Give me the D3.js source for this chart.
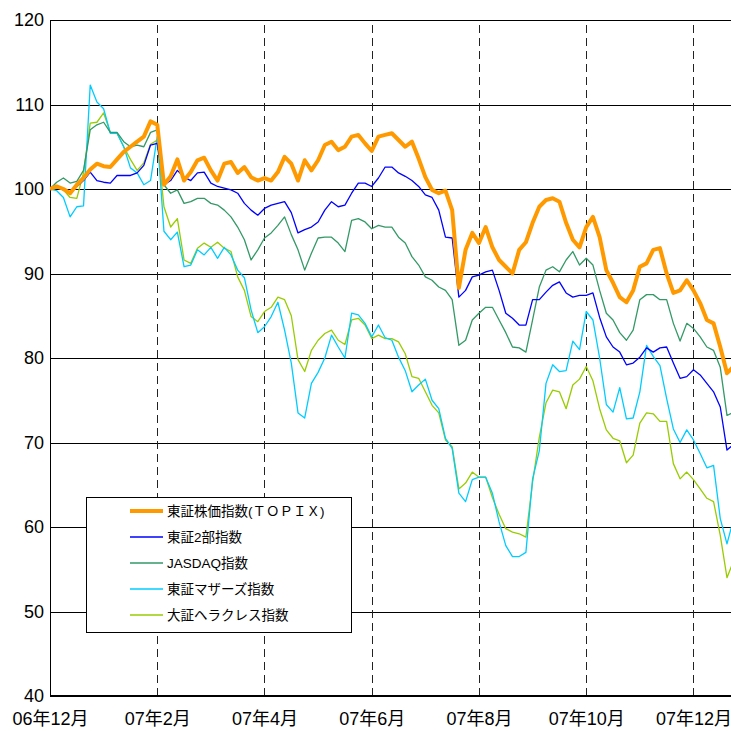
<!DOCTYPE html>
<html>
<head>
<meta charset="utf-8">
<script src="https://cdn.jsdelivr.net/npm/d3@7"></script>
<style>
  body { margin: 0; background: #fff; }
  svg { display: block; }
  text { font-family: "Liberation Sans", Arial, "Noto Sans CJK JP", sans-serif; }
</style>
</head>
<body>
<svg width="731" height="731"></svg>
<script>
// x axis: months since 06/12, samples every 1/8 month
const monthTicks = [0, 2, 4, 6, 8, 10, 12];
const monthLabels = ["06年12月", "07年2月", "07年4月", "07年6月", "07年8月", "07年10月", "07年12月"];
const yTicks = [40, 50, 60, 70, 80, 90, 100, 110, 120];
const sampleStep = 1 / 8;

const topix = [100,100.3,100,99.5,100.5,101.3,102.3,103,102.7,102.6,
  103.5,104.4,105,105.6,106.2,108,107.6,100.5,101.5,103.5,
  101,102,103.4,103.7,102.2,101,103,103.2,101.9,102.6,
  101.4,101,101.3,101,102,103.8,103,101,103.4,102.2,
  103.4,105.2,105.6,104.6,105,106.2,106.4,105.4,104.5,106.2,
  106.4,106.6,105.8,105,105.6,103.6,101.4,99.9,99.5,99.8,
  97.5,88.3,92.8,94.8,93.6,95.5,93.1,91.6,90.8,90,
  92.8,93.7,96,97.9,98.7,98.9,98.5,96,94,93.1,
  95.5,96.7,94.3,90.4,88.9,87.2,86.6,88,90.8,91.2,
  92.8,93,90,87.7,88,89.2,88,86.5,84.5,84.1,
  81.3,78.2,79];

const tse2 = [100,100.2,99.9,99.5,100.3,101,102,101,100.8,100.7,
  101.6,101.6,101.6,101.9,102.8,105.2,105.4,100.5,101,102.2,
  101.4,101,101.9,102,100.7,100.3,100.1,99.9,99.5,98.3,
  97.5,96.9,97.7,98.1,98.3,98.5,97.2,94.8,95.2,95.5,
  96.1,97.5,98.5,97.9,98.1,99.5,100.7,100.7,100.3,101.3,
  102.6,102.6,101.9,101.5,101,100.3,99.3,99,97.5,94.3,
  94.2,87.2,88,89.6,89.8,90.2,90.4,88,85.3,84.7,
  83.9,83.9,86.9,86.9,87.8,88.6,89,87.7,87.2,87.4,
  87.4,87.7,84.8,82.5,81.3,80.7,79.2,79.4,80.1,81.2,
  80.7,81.2,81.3,79.4,77.6,77.8,78.6,78,77,76,
  74.2,69.1,69.8];

const jasdaq = [100,100.8,101.3,100.7,100.9,102.2,107,107.6,107.9,106.7,
  106.7,105.6,105,105.2,105,106.7,107,100.5,99.5,99.9,
  98.3,98.5,98.9,98.9,98.3,98.1,97.5,96.7,95.5,94,
  91.6,92.8,94.2,94.8,95.7,96.7,94.6,92.8,90.4,92.4,
  94.2,94.3,94.3,93.6,92.6,96.3,96.5,96.1,95.3,95.7,
  95.5,95.5,94.3,93.6,92,91,89.6,89.2,88.4,88,
  86.9,81.5,82.1,84.5,85.3,86,86,84.5,83,81.3,
  81.2,80.7,84.5,88.4,90.4,90.8,90.2,91.6,92.6,91,
  91.8,91,88,85.3,84.5,83,82.1,83.3,86.9,87.5,
  87.5,86.9,86.9,84.1,82,84.1,83.5,82.5,81.3,80.9,
  78.9,73.2,73.6];

const mothers = [100,99.8,99,96.7,97.9,98,112.3,110.3,109.5,106.6,
  106.6,105,102.5,101.9,100.5,101,106.2,95,94,94.9,
  90.8,91,92.8,92.2,93.1,91.8,93.1,92.2,90.4,89.5,
  85.7,83,83.7,84.9,86.6,83.3,79.4,73.5,72.9,77,
  78.3,80,82.7,81.3,80,85.3,85.1,84.1,82.5,83.9,
  82.4,82.1,80.1,78.5,76,76.8,77.5,75,74,70.5,
  69.3,64,63,65.6,65.9,65.9,64,60.6,57.8,56.5,
  56.5,57,65.7,69,77,79.2,78.4,78.5,82,81,
  85.5,84.5,80,74.5,73.6,76.5,72.8,72.9,76,81.5,
  80.2,79.1,75.2,71.6,70,71.5,70.3,68.7,67,67.3,
  61,58,61];

const hercules = [100,100.4,99.9,99,98.9,101.9,107.8,107.9,109,106.7,
  106.6,105,103.5,102.2,103.1,105.3,105.8,97.9,95.5,96.5,
  91.6,91.2,93,93.6,93.1,93.7,93,92.6,89.6,88,
  84.9,84.3,85.5,86,87.2,86.9,85,79.8,78.4,80.9,
  82.1,82.9,83.3,82.1,81.6,84.5,84.7,83.9,82.3,82.7,
  82.3,82.3,81.9,80.5,77.8,77.6,76,74.4,73.5,70.3,
  69.5,64.5,65.2,66.5,65.9,65.9,63.5,61.5,59.8,59.4,
  59.2,58.8,65.3,70.6,74.7,76.2,76,74,76.8,77.5,
  79,77.3,74,71.5,70.5,70.2,67.6,68.5,72.3,73.5,
  73.4,72.5,72.5,67.5,65.7,66.5,65.6,64.5,63.4,63,
  59,54,56];

const seriesNames = ["東証株価指数(ＴＯＰＩＸ)", "東証2部指数", "JASDAQ指数", "東証マザーズ指数", "大証ヘラクレス指数"];
const seriesValues = [topix, tse2, jasdaq, mothers, hercules];
const seriesColors = ["#ff9900", "#0000ff", "#339966", "#00ccff", "#99cc00"];
const seriesWidths = [4, 1.3, 1.3, 1.3, 1.3];

const svg = d3.select("svg"),
    margin = {top: 20, right: 0, bottom: 35, left: 50},
    width = +svg.attr("width") - margin.left - margin.right,
    height = +svg.attr("height") - margin.top - margin.bottom,
    g = svg.append("g").attr("transform", "translate(" + margin.left + "," + margin.top + ")");

const x = d3.scaleLinear().domain([0, 12.7]).range([0, width]);
const y = d3.scaleLinear().domain([40, 120]).range([height, 0]);

// horizontal grid + y labels
const yAxis = g.append("g")
    .call(d3.axisLeft(y).tickValues(yTicks).tickSize(-width).tickPadding(6).tickFormat(d3.format("d")));
yAxis.select(".domain").remove();
yAxis.selectAll("line").attr("stroke", "#000").attr("shape-rendering", "crispEdges");
yAxis.selectAll("text").attr("font-size", 18).attr("fill", "#000");

// vertical dashed lines + month labels
const xAxis = g.append("g")
    .attr("transform", "translate(0," + height + ")")
    .call(d3.axisBottom(x).tickValues(monthTicks).tickSize(-height).tickPadding(16)
      .tickFormat((d, i) => monthLabels[i]));
xAxis.select(".domain").remove();
xAxis.selectAll("line")
    .attr("stroke", d => d === 0 ? "none" : "#222")
    .attr("stroke-dasharray", "8,5")
    .attr("shape-rendering", "crispEdges");
xAxis.selectAll("text").attr("font-size", 18).attr("fill", "#000");

// axis frame lines
g.append("line").attr("x1", 0).attr("x2", 0).attr("y1", 0).attr("y2", height)
    .attr("stroke", "#000").attr("shape-rendering", "crispEdges");
g.append("line").attr("x1", 0).attr("x2", width).attr("y1", height).attr("y2", height)
    .attr("stroke", "#000").attr("stroke-width", 1.5).attr("shape-rendering", "crispEdges");

g.append("clipPath").attr("id", "plotclip")
  .append("rect").attr("x", 0).attr("y", 0).attr("width", width).attr("height", height);

const line_gen = d3.line()
    .x((d, i) => x(i * sampleStep))
    .y(d => y(d));

// draw back to front so TOPIX ends on top
const order = [4, 3, 2, 1, 0];
g.append("g").attr("clip-path", "url(#plotclip)")
  .selectAll("path")
  .data(order)
  .join("path")
    .attr("fill", "none")
    .attr("stroke", k => seriesColors[k])
    .attr("stroke-width", k => seriesWidths[k])
    .attr("stroke-linejoin", "round")
    .attr("d", k => line_gen(seriesValues[k]));

// legend
const legend = svg.append("g").attr("transform", "translate(86,497)");
legend.append("rect")
    .attr("x", 0.5).attr("y", 0.5).attr("width", 265).attr("height", 135)
    .attr("fill", "#fff").attr("stroke", "#000");
const rows = legend.selectAll("g.row")
  .data(seriesNames)
  .join("g")
    .attr("class", "row")
    .attr("transform", (d, i) => "translate(0," + (14 + i * 26) + ")");
rows.append("line")
    .attr("x1", 44).attr("x2", 77).attr("y1", 0).attr("y2", 0)
    .attr("stroke", (d, i) => seriesColors[i])
    .attr("stroke-width", (d, i) => i === 0 ? 4 : 1.5);
rows.append("text")
    .attr("x", 81).attr("y", 0).attr("dy", "0.36em")
    .attr("font-size", 13.5).attr("fill", "#000")
    .text(d => d);
</script>
</body>
</html>
